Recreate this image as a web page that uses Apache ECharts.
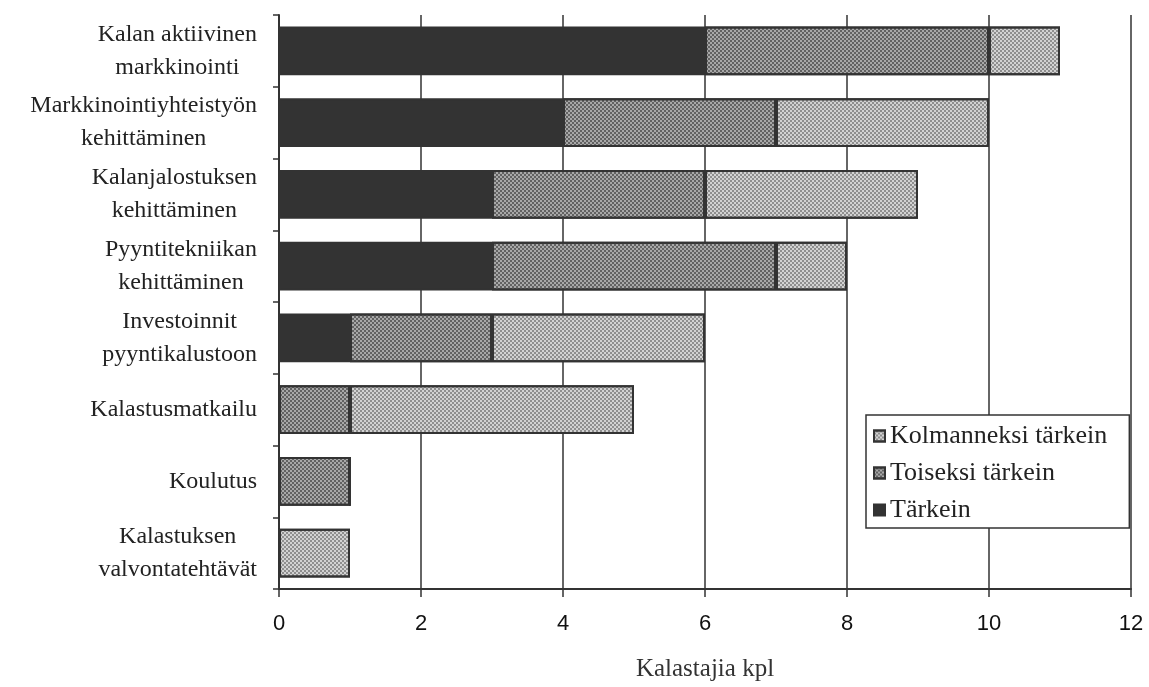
<!DOCTYPE html>
<html>
<head>
<meta charset="utf-8">
<script src="https://cdn.jsdelivr.net/npm/echarts@6/dist/echarts.min.js"></script>
<style>html,body{margin:0;padding:0;background:#fff;}#c{width:1149px;height:687px;}</style>
</head>
<body>
<div id="c"></div>
<script>
var categories = [
  'Kalan aktiivinen\nmarkkinointi',
  'Markkinointiyhteistyön\nkehittäminen',
  'Kalanjalostuksen\nkehittäminen',
  'Pyyntitekniikan\nkehittäminen',
  'Investoinnit\npyyntikalustoon',
  'Kalastusmatkailu',
  'Koulutus',
  'Kalastuksen\nvalvontatehtävät'
];
var tarkein = [6, 4, 3, 3, 1, 0, 0, 0];
var toiseksi = [4, 3, 3, 4, 2, 1, 1, 0];
var kolmanneksi = [1, 3, 3, 1, 3, 4, 0, 1];
var xTicks = [0, 2, 4, 6, 8, 10, 12];

var serif = '"Liberation Serif", "DejaVu Serif", serif';
var chart = echarts.init(document.getElementById('c'));
function ser(name, data, color, decalColor) {
  var it = { color: color, borderColor: '#333', borderWidth: 2 };
  if (decalColor) {
    it.decal = { symbol: 'rect', symbolSize: 1, color: decalColor,
      dashArrayX: [[2, 2], [0, 2, 2, 0]], dashArrayY: [2, 0], rotation: 0 };
  }
  return { name: name, type: 'bar', stack: 'all', data: data, barWidth: '68%', itemStyle: it };
}
chart.setOption({
  animation: false,
  backgroundColor: '#fff',
  grid: { left: 279, right: 18, top: 15, bottom: 92 },
  legend: {
    orient: 'vertical', left: 866, top: 415,
    data: ['Kolmanneksi tärkein', 'Toiseksi tärkein', 'Tärkein'],
    backgroundColor: '#fff', borderColor: '#333', borderWidth: 1.5,
    padding: [8, 22, 5, 7], itemGap: 11, itemWidth: 11, itemHeight: 11,
    textStyle: { fontFamily: serif, fontSize: 26, color: '#222' },
    icon: 'rect'
  },
  xAxis: {
    type: 'value', min: 0, max: 12, interval: 2,
    name: 'Kalastajia kpl', nameLocation: 'middle', nameGap: 68,
    nameTextStyle: { fontFamily: serif, fontSize: 25, color: '#333' },
    axisLine: { show: true, lineStyle: { color: '#333', width: 2 } },
    axisTick: { show: true, length: 8, lineStyle: { color: '#333', width: 1.5 } },
    axisLabel: { fontFamily: '"Liberation Sans", Arial, sans-serif', fontSize: 22, color: '#111', margin: 24,
      formatter: function (v) { return xTicks.indexOf(v) >= 0 ? String(v) : ''; } },
    splitLine: { show: true, lineStyle: { color: '#333', width: 1.5 } }
  },
  yAxis: {
    type: 'category', data: categories, inverse: true,
    axisLine: { show: true, lineStyle: { color: '#333', width: 2 } },
    axisTick: { show: true, inside: false, length: 6, lineStyle: { color: '#333', width: 1.5 } },
    axisLabel: {
      margin: 22, align: 'right',
      formatter: function (v) { return v.split('\n').map(function (s) { return '{c|' + s + '}'; }).join('\n'); },
      rich: { c: { align: 'center', fontFamily: serif, fontSize: 24, color: '#222', lineHeight: 33 } }
    }
  },
  series: [
    ser('Tärkein', tarkein, '#333333', null),
    ser('Toiseksi tärkein', toiseksi, '#a8a8a8', 'rgba(40,40,40,0.55)'),
    ser('Kolmanneksi tärkein', kolmanneksi, '#d2d2d2', 'rgba(60,60,60,0.45)')
  ]
});
</script>
</body>
</html>
